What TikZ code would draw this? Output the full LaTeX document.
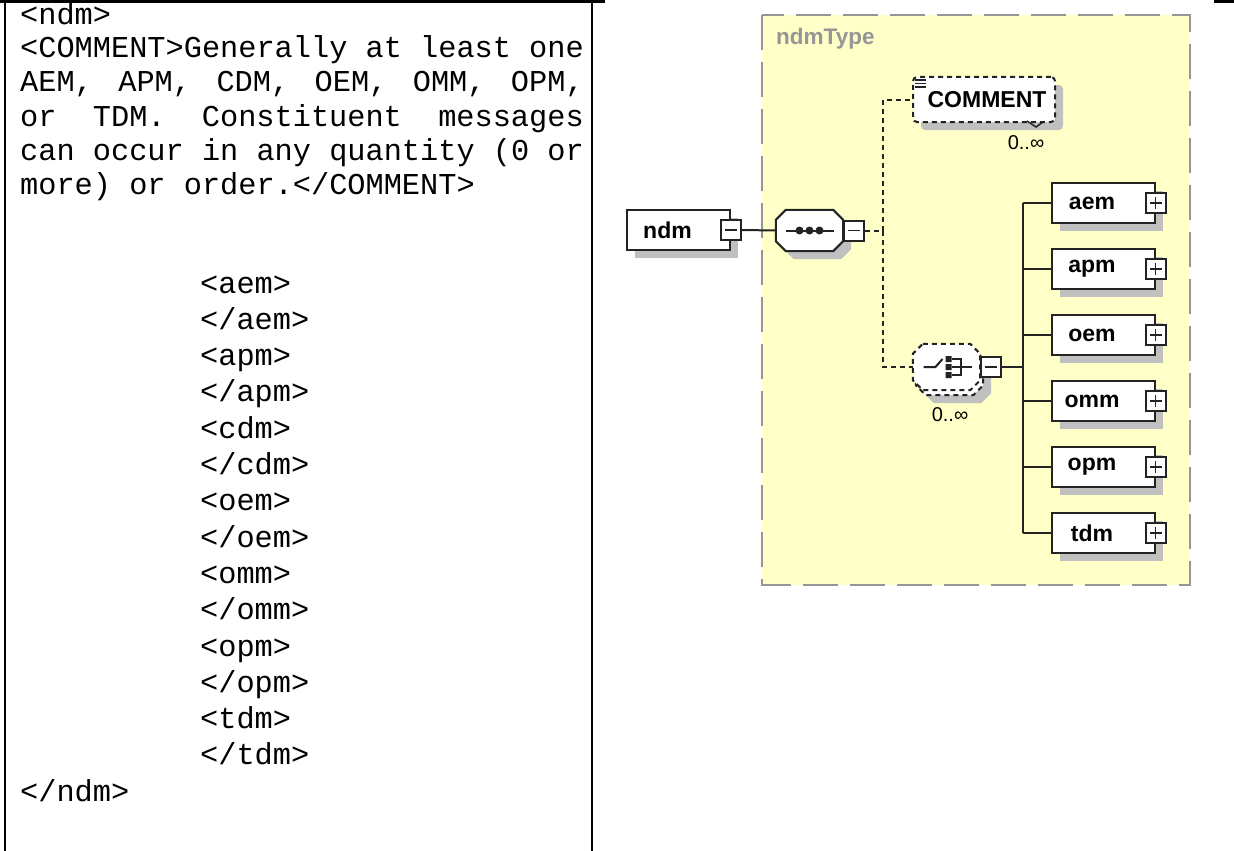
\documentclass[tikz,border=0pt]{standalone}
\usepackage{fontspec}
\newfontfamily\codefont{Liberation Mono}
\newfontfamily\diafont{Liberation Sans}
\usetikzlibrary{shadows,calc}

\definecolor{typeyellow}{RGB}{255,255,200}
\definecolor{shadowgray}{RGB}{192,192,192}
\definecolor{typegray}{RGB}{150,150,150}
\definecolor{edgeblack}{RGB}{35,35,35}

% octagon round a named (invisible) node, corners cut by 10 units
\newcommand\octagon[1]{($(#1.north west)+(10,0)$) -- ($(#1.north east)+(-10,0)$) -- ($(#1.north east)+(0,10)$) -- ($(#1.south east)+(0,-10)$) -- ($(#1.south east)+(-10,0)$) -- ($(#1.south west)+(10,0)$) -- ($(#1.south west)+(0,-10)$) -- ($(#1.north west)+(0,10)$) -- cycle}

\tikzset{
  rule/.style={draw=black, line width=2.2pt},
  code/.style={anchor=base west, inner sep=0pt, font=\codefont\fontsize{30.3}{34}\selectfont},
  elembox/.style={rectangle, draw=edgeblack, line width=2pt, fill=white,
    minimum width=103pt, minimum height=40pt, inner sep=0pt,
    font=\diafont\bfseries\fontsize{23}{26}\selectfont},
  shadowed/.style={drop shadow={shadow xshift=8pt, shadow yshift=-8pt, fill=shadowgray, opacity=1}},
  haskids/.style={execute at end node={\hspace*{22pt}}},
  optional/.style={dash pattern=on 5pt off 4pt},
  hub/.style={rectangle, draw=none, minimum width=67pt, minimum height=41pt, inner sep=0pt},
  compositor/.style={draw=edgeblack, line width=2pt, fill=white},
  minusbox/.style={draw=edgeblack, line width=2pt, fill=white, minimum size=20pt, inner sep=0pt,
    path picture={\draw[edgeblack, line width=1.8pt]
      ($(path picture bounding box.west)!0.2!(path picture bounding box.east)$) --
      ($(path picture bounding box.west)!0.8!(path picture bounding box.east)$);}},
  plusbox/.style={draw=edgeblack, line width=2pt, fill=white, minimum size=20pt, inner sep=0pt,
    path picture={\draw[edgeblack, line width=1.8pt]
      ($(path picture bounding box.west)!0.2!(path picture bounding box.east)$) --
      ($(path picture bounding box.west)!0.8!(path picture bounding box.east)$)
      ($(path picture bounding box.south)!0.2!(path picture bounding box.north)$) --
      ($(path picture bounding box.south)!0.8!(path picture bounding box.north)$);}},
  link/.style={draw=edgeblack, line width=2pt},
  optlink/.style={link, dash pattern=on 5pt off 4pt},
  occurs/.style={inner sep=0pt, font=\diafont\fontsize{20}{22}\selectfont},
}

\begin{document}
\begin{tikzpicture}[x=1pt,y=1pt,yscale=-1,xscale=1]
    \useasboundingbox (0,0) rectangle (1234,851);

    %Table rules
    \draw[rule] (5,0) -- (5,851);
    \draw[rule] (592,0) -- (592,851);
    \draw[rule] (0,1.5) -- (605,1.5);
    \draw[rule] (1214,1.5) -- (1234,1.5);

    % Text Node
    \node[code] (ln0) at (20,25) {<ndm>};
    % Text Node
    \node[code] (ln1) at (20,58) {<COMMENT>Generally at least one};
    % Text Node
    \node[code] (ln2) at (20,92) {\makebox[563.6pt][s]{AEM,\hfill APM,\hfill CDM,\hfill OEM,\hfill OMM,\hfill OPM,}};
    % Text Node
    \node[code] (ln3) at (20,126) {\makebox[563.6pt][s]{or\hfill TDM.\hfill Constituent\hfill messages}};
    % Text Node
    \node[code] (ln4) at (20,160) {can occur in any quantity (0 or};
    % Text Node
    \node[code] (ln5) at (20,194) {more) or order.</COMMENT>};
    % Text Node
    \node[code] (ln8) at (200,293) {<aem>};
    \node[code] (ln9) at (200,329.3) {</aem>};
    \node[code] (ln10) at (200,365.6) {<apm>};
    \node[code] (ln11) at (200,401.9) {</apm>};
    \node[code] (ln12) at (200,438.2) {<cdm>};
    \node[code] (ln13) at (200,474.5) {</cdm>};
    \node[code] (ln14) at (200,510.8) {<oem>};
    \node[code] (ln15) at (200,547.1) {</oem>};
    \node[code] (ln16) at (200,583.4) {<omm>};
    \node[code] (ln17) at (200,619.7) {</omm>};
    \node[code] (ln18) at (200,656) {<opm>};
    \node[code] (ln19) at (200,692.3) {</opm>};
    \node[code] (ln20) at (200,728.6) {<tdm>};
    \node[code] (ln21) at (200,764.9) {</tdm>};
    % Text Node
    \node[code] (ln22) at (20,801.2) {</ndm>};

    %Type box
    \draw[draw=typegray, fill=typeyellow, line width=2.5pt, dash pattern=on 35pt off 12pt] (762,15) rectangle (1190,585);
    \node[anchor=west, inner sep=0pt, text=typegray, font=\diafont\bfseries\fontsize{22.5}{25}\selectfont] (typename) at (776,39) {ndmType};

    %Root element
    \node[elembox, shadowed, haskids] (ndm) at (678.5,230) {ndm};
    \node[minusbox] (ndmx) at (ndm.east) {};

    %Sequence
    \node[hub] (seq) at (809.5,230.5) {};
    \draw[compositor, shadowed] \octagon{seq};
    \draw[link] ([xshift=-24pt]seq.center) -- ([xshift=24pt]seq.center);
    \fill[edgeblack] ([xshift=-10pt]seq.center) circle (4) (seq.center) circle (4) ([xshift=10pt]seq.center) circle (4);
    \node[minusbox, anchor=west] (seqx) at (seq.east) {};

    %COMMENT element
    \node[elembox, optional, rounded corners=4pt, shadowed, minimum width=142pt, minimum height=45pt] (comment) at (984,99.5) {\hspace*{6pt}COMMENT};
    \draw[edgeblack, line width=1.3pt] (915,80) -- (926,80) (915,83.5) -- (926,83.5) (915,87) -- (926,87);
    \draw[edgeblack, line width=1.5pt] (1027,121) -- (1036,127) -- (1043,122);
    \node[occurs] (commentocc) at (1026,143) {0..∞};

    %Choice
    \node[hub, minimum height=46pt] (choicebk) at (949.5,372) {};
    \draw[compositor, optional, shadowed] \octagon{choicebk};
    \node[hub, minimum height=46pt] (choice) at (946.5,367) {};
    \draw[compositor, optional] \octagon{choice};
    \begin{scope}[shift={(choice.center)}]
      \draw[link] (-23,0) -- (-11,0) -- (-4,-8);
      \fill[edgeblack] (-1,-11) rectangle (5,-5) (-1,-3) rectangle (5,3) (-1,5) rectangle (5,11);
      \draw[link] (5,-8) -- (14,-8) -- (14,8) -- (5,8) (5,0) -- (25,0);
    \end{scope}
    \node[minusbox, anchor=west] (choicex) at (choice.east) {};
    \node[occurs] (choiceocc) at (950,415) {0..∞};

    %Child elements
    \node[elembox, shadowed, haskids] (aem) at (1103,203) {aem};
    \node[elembox, shadowed, haskids] (apm) at (1103,269) {apm};
    \node[elembox, shadowed, haskids] (oem) at (1103,335) {oem};
    \node[elembox, shadowed, haskids] (omm) at (1103,401) {omm};
    \node[elembox, shadowed, haskids] (opm) at (1103,467) {opm};
    \node[elembox, shadowed, haskids] (tdm) at (1103,533) {tdm};
    \foreach \kid in {aem,apm,oem,omm,opm,tdm}
      \node[plusbox] (\kid x) at (\kid.east) {};

    %Connectors
    \coordinate (fork) at (883,230.5);
    \coordinate (bus) at (1023,367);
    \draw[link] (ndmx.east) -- (seq.west);
    \draw[optlink] (seqx.east) -- (fork);
    \draw[optlink] (fork) |- (comment.west);
    \draw[optlink] (fork) |- (choice.west);
    \draw[link] (choicex.east) -- (bus);
    \draw[link] (bus |- aem.west) -- (bus |- tdm.west);
    \foreach \kid in {aem,apm,oem,omm,opm,tdm}
      \draw[link] (bus |- \kid.west) -- (\kid.west);
\end{tikzpicture}
\end{document}
